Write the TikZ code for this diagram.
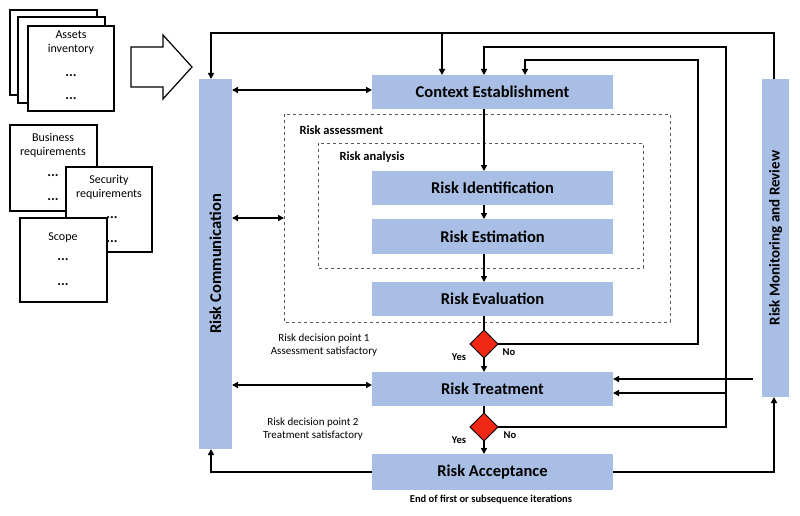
\documentclass[tikz,border=0pt]{standalone}
\usepackage{fontspec}
\setmainfont{Carlito}
\usetikzlibrary{arrows.meta}
\begin{document}
\begin{tikzpicture}[x=1pt,y=-1pt,
  blk/.style={fill={rgb,255:red,168;green,190;blue,228}, draw=none, inner sep=0pt, font=\bfseries\fontsize{16.5}{18}\selectfont},
  doc/.style={draw=black, line width=1.3pt, fill=white},
  ln/.style={line width=1.6pt},
  ar/.style={line width=1.6pt,-{Triangle[length=6pt,width=6pt]}},
  dar/.style={line width=1.6pt,{Triangle[length=6pt,width=6pt]}-{Triangle[length=6pt,width=6pt]}},
  dia/.style={fill={rgb,255:red,240;green,40;blue,20}, draw=black, line width=0.8pt},
  lab/.style={font=\fontsize{11}{13}\selectfont, align=center},
  dlab/.style={font=\fontsize{12}{14}\selectfont, align=center},
  dots/.style={font=\bfseries\fontsize{14}{14}\selectfont},
  blab/.style={font=\bfseries\fontsize{10.5}{12}\selectfont}]
\useasboundingbox (0,0) rectangle (800,516);
% documents
\draw[doc] (10,10) rectangle (97,95);
\draw[doc] (18,17) rectangle (105,103);
\draw[doc] (28,26) rectangle (114,111);
\node[dlab] (ai) at (71,43) {Assets\\inventory};
\node[dots] at (71,76) {...}; \node[dots] at (71,99) {...};
\draw[doc] (10,125) rectangle (97,211);
\node[dlab] (br) at (53,145) {Business\\requirements};
\node[dots] at (53,176) {...}; \node[dots] at (53,200) {...};
\draw[doc] (66,167) rectangle (152,252);
\node[dlab] (sr) at (109,187) {Security\\requirements};
\node[dots] at (112,218) {...}; \node[dots] at (112,242) {...};
\draw[doc] (20,218) rectangle (107,302);
\node[dlab] (sc) at (63,238) {Scope};
\node[dots] at (63,260) {...}; \node[dots] at (63,285) {...};
\draw[line width=1.2pt] (131,47) -- (163,47) -- (163,35) -- (192,67) -- (163,99) -- (163,87) -- (131,87) -- cycle;
% dashed boxes
\draw[dashed, gray!70!black] (284,114) rectangle (670,322);
\node[font=\bfseries\fontsize{12.5}{14}\selectfont, anchor=west] at (296,130) {Risk assessment};
\draw[dashed, gray!70!black] (318,143) rectangle (643,268);
\node[font=\bfseries\fontsize{12.5}{14}\selectfont, anchor=west] at (336,157) {Risk analysis};
% blocks
\node[blk, minimum width=241pt, minimum height=34pt] (ce) at (492.5,92) {Context Establishment};
\node[blk, minimum width=241pt, minimum height=34pt] (ri) at (492.5,188) {Risk Identification};
\node[blk, minimum width=241pt, minimum height=35pt] (re) at (492.5,236.5) {Risk Estimation};
\node[blk, minimum width=241pt, minimum height=34pt] (rv) at (492.5,299) {Risk Evaluation};
\node[blk, minimum width=241pt, minimum height=34pt] (rt) at (492.5,389) {Risk Treatment};
\node[blk, minimum width=241pt, minimum height=36pt] (ra) at (492.5,472) {Risk Acceptance};
\node[blk, minimum width=33pt, minimum height=370pt] (rc) at (215.5,264) {};
\node[blk, rotate=90] at (rc) {Risk Communication};
\node[blk, minimum width=27pt, minimum height=318pt] (rm) at (775.5,238) {};
\node[blk, rotate=90, font=\bfseries\fontsize{15}{17}\selectfont] at (rm) {Risk Monitoring and Review};
% diamonds
\draw[dia] (484,330) -- (498,344) -- (484,358) -- (470,344) -- cycle;
\coordinate (d1) at (484,344);
\draw[dia] (484,413) -- (498,427) -- (484,441) -- (470,427) -- cycle;
\coordinate (d2) at (484,427);
% flow
\draw[ar] (484,109) -- (484,171);
\draw[ar] (484,205) -- (484,219);
\draw[ar] (484,254) -- (484,282);
\draw[ln] (484,316) -- (484,330);
\draw[ar] (484,358) -- (484,372);
\draw[ln] (484,406) -- (484,413);
\draw[ar] (484,441) -- (484,454);
\node[blab] at (459,357) {Yes}; \node[blab] at (509,352) {No};
\node[blab] at (459,440) {Yes}; \node[blab] at (510,435) {No};
% loops
\draw[ar] (774,79) -- (774,33) -- (211,33) -- (211,79);
\draw[ar] (442,33) -- (442,75);
\draw[ar] (498,344) -- (698,344) -- (698,60) -- (525,60) -- (525,75);
\draw[ar] (498,427) -- (726,427) -- (726,47) -- (484,47) -- (484,75);
\draw[ar] (726,393) -- (613,393);
\draw[ar] (753,379) -- (613,379);
\draw[ar] (613,472) -- (774,472) -- (774,397);
\draw[ar] (372,472) -- (211,472) -- (211,449);
% communication
\draw[dar] (232,90) -- (372,90);
\draw[dar] (232,218) -- (284,218);
\draw[dar] (232,385) -- (372,385);
% labels
\node[lab] at (324,345) {Risk decision point 1\\Assessment satisfactory};
\node[lab] at (313,429) {Risk decision point 2\\Treatment satisfactory};
\node[blab] at (491,500) {End of first or subsequence iterations};
\end{tikzpicture}
\end{document}
